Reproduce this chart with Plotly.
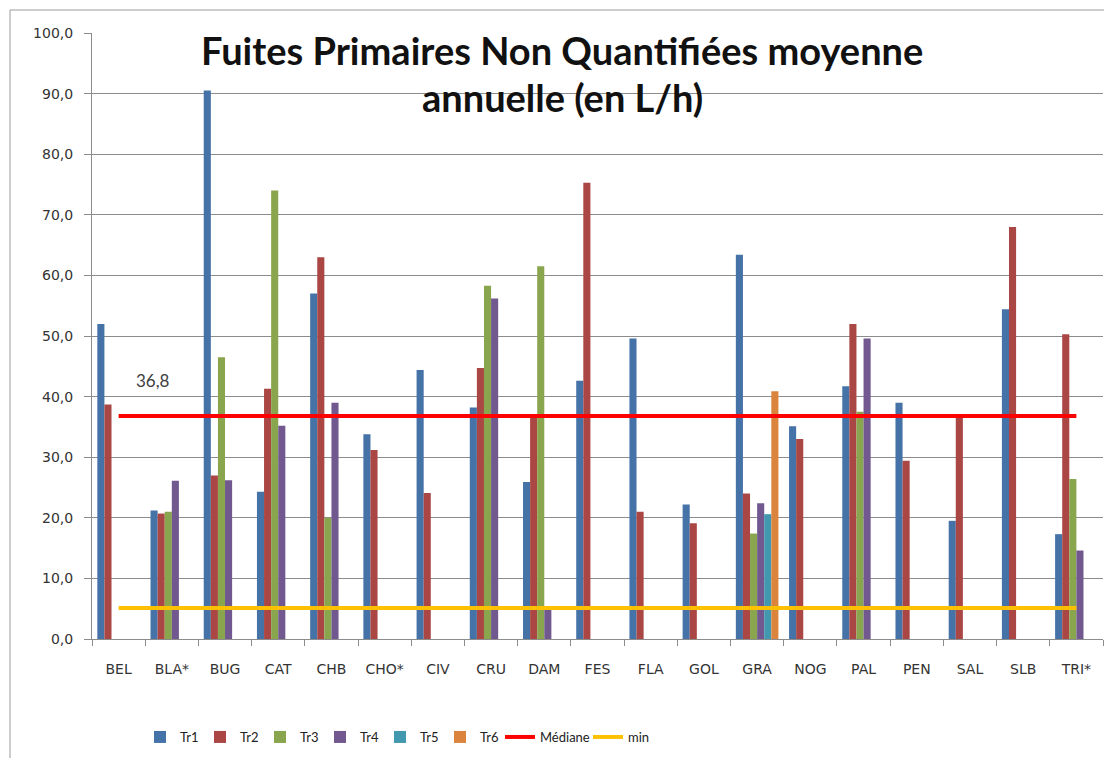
import plotly.graph_objects as go

categories = ["BEL", "BLA*", "BUG", "CAT", "CHB", "CHO*", "CIV", "CRU", "DAM", "FES",
              "FLA", "GOL", "GRA", "NOG", "PAL", "PEN", "SAL", "SLB", "TRI*"]

tr1 = [52.0, 21.2, 90.5, 24.3, 57.0, 33.8, 44.4, 38.2, 25.9, 42.6,
       49.6, 22.2, 63.4, 35.1, 41.7, 39.0, 19.5, 54.4, 17.3]
tr2 = [38.7, 20.7, 27.0, 41.3, 63.0, 31.2, 24.1, 44.7, 36.6, 75.3,
       21.0, 19.1, 24.0, 33.0, 52.0, 29.4, 36.6, 68.0, 50.3]
tr3 = [None, 21.0, 46.5, 74.0, 20.0, None, None, 58.3, 61.5, None,
       None, None, 17.4, None, 37.5, None, None, None, 26.4]
tr4 = [None, 26.1, 26.2, 35.2, 39.0, None, None, 56.2, 4.8, None,
       None, None, 22.4, None, 49.6, None, None, None, 14.6]
tr5 = [None, None, None, None, None, None, None, None, None, None,
       None, None, 20.6, None, None, None, None, None, None]
tr6 = [None, None, None, None, None, None, None, None, None, None,
       None, None, 40.9, None, None, None, None, None, None]

median_value = 36.8
min_value = 5.1
median_label = "36,8"

series_names = ["Tr1", "Tr2", "Tr3", "Tr4", "Tr5", "Tr6"]
series_values = [tr1, tr2, tr3, tr4, tr5, tr6]
series_colors = ["#4572A7", "#AA4643", "#89A54E", "#71588F", "#4198AF", "#DB843D"]

W, H = 1104, 758
L, R, T, B = 92, 1, 33, 119
pw = W - L - R
ph = H - T - B

fig = go.Figure()
for name, vals, col in zip(series_names, series_values, series_colors):
    fig.add_trace(go.Bar(x=categories, y=vals, name=name, legend="legend",
                         marker=dict(color=col, line=dict(width=0))))

fig.add_trace(go.Scatter(x=categories, y=[median_value] * len(categories), mode="lines",
                         name="Médiane", legend="legend2", line=dict(color="#FF0000", width=4)))
fig.add_trace(go.Scatter(x=categories, y=[min_value] * len(categories), mode="lines",
                         name="min", legend="legend2", line=dict(color="#FFC000", width=4)))

grid = "#8c8c8c"
tickfont = dict(family="DejaVu Sans, Verdana, sans-serif", size=14, color="#333333")
legend_font = dict(family="Lato, sans-serif", size=13, color="#222222")
legend_y = (T + ph - 737) / ph

fig.update_layout(
    width=W, height=H,
    margin=dict(l=L, r=R, t=T, b=B, autoexpand=False),
    paper_bgcolor="white", plot_bgcolor="white",
    barmode="group", bargap=0.2, bargroupgap=0,
    separators=", ",
    showlegend=True,
    legend=dict(orientation="h", x=(140 - L) / pw, xanchor="left",
                y=legend_y, yanchor="middle", font=legend_font, entrywidth=15,
                traceorder="normal", bgcolor="rgba(0,0,0,0)"),
    legend2=dict(orientation="h", x=(500 - L) / pw, xanchor="left",
                 y=legend_y, yanchor="middle", font=legend_font, entrywidth=43,
                 traceorder="normal", bgcolor="rgba(0,0,0,0)"),
    xaxis=dict(type="category", showline=True, linecolor=grid, linewidth=1,
               ticks="outside", ticklen=6, tickcolor=grid, tickson="boundaries",
               tickfont=tickfont, showgrid=False, ticklabelstandoff=17),
    yaxis=dict(range=[0, 100], dtick=10, tickformat=".1f", showline=True, linecolor=grid,
               linewidth=1, ticks="outside", ticklen=7, tickcolor=grid,
               showgrid=True, gridcolor=grid, gridwidth=1, zeroline=False,
               tickfont=tickfont, ticklabelstandoff=8),
)

title_font = dict(family="Lato, sans-serif", size=38, color="#111111")
fig.add_annotation(text="<b>Fuites Primaires Non Quantifiées moyenne</b>", xref="paper", yref="paper",
                   x=(562 - L) / pw, y=(T + ph - 50) / ph, xanchor="center", yanchor="middle",
                   showarrow=False, font=title_font)
fig.add_annotation(text="<b>annuelle (en L/h)</b>", xref="paper", yref="paper",
                   x=(562 - L) / pw, y=(T + ph - 97) / ph, xanchor="center", yanchor="middle",
                   showarrow=False, font=title_font)
fig.add_annotation(text=median_label, x=0.65, y=42.6, xref="x", yref="y", showarrow=False,
                   font=dict(family="Lato, sans-serif", size=17, color="#404040"))

# outer chart border
fig.add_shape(type="rect", xref="paper", yref="paper",
              x0=(10 - L) / pw, x1=(W + 20 - L) / pw,
              y0=(T + ph - (H + 20)) / ph, y1=(T + ph - 10) / ph,
              line=dict(color="#9a9a9a", width=1), fillcolor="rgba(0,0,0,0)", layer="below")

fig.write_html("out.html", config={"displayModeBar": False},
               post_script="document.body.style.margin='0';document.body.style.overflow='hidden';")
